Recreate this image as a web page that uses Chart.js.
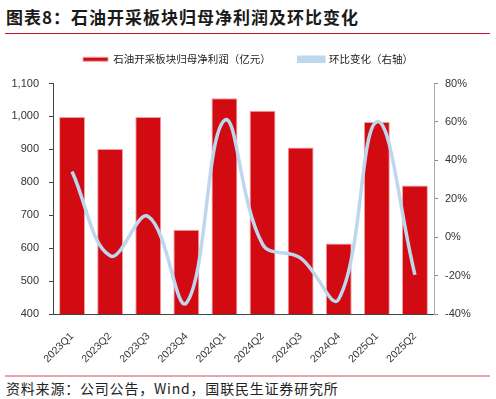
<!DOCTYPE html>
<html lang="zh-CN">
<head>
  <meta charset="UTF-8">
  <title>石油开采板块归母净利润及环比变化</title>
  <script src="https://cdn.jsdelivr.net/npm/chart.js"></script>
  <style>
    body { margin: 0; width: 496px; height: 399px; background: #fff; position: relative; overflow: hidden; }
    .titulo { position: absolute; left: 6px; top: 4px; font: bold 17px "Noto Sans CJK SC"; color: #1a1a1a; letter-spacing: 1px; }
    .linha-topo { position: absolute; left: 5px; top: 33px; width: 485px; height: 1px; background: #c8102e; }
    .grafico { position: absolute; left: 0; top: 26px; width: 496px; height: 344px; }
    .linha-base { position: absolute; left: 5px; top: 375px; width: 485px; height: 2px; background: #e9a3ad; }
    .fonte { position: absolute; left: 6px; top: 378px; font: 14px "Noto Sans CJK SC"; color: #222; letter-spacing: 0.8px; }
  </style>
</head>
<body>
  <div class="titulo">图表8：石油开采板块归母净利润及环比变化</div>
  <div class="linha-topo"></div>
  <div class="grafico"><canvas id="graficoLucro" width="496" height="344"></canvas></div>
  <div class="linha-base"></div>
  <div class="fonte">资料来源：公司公告，Wind，国联民生证券研究所</div>

  <script>
    const trimestres = ["2023Q1", "2023Q2", "2023Q3", "2023Q4", "2024Q1", "2024Q2", "2024Q3", "2024Q4", "2025Q1", "2025Q2"];
    const lucro = [998, 901, 998, 656, 1055, 1017, 906, 614, 983, 790];
    const variacao = [34.2, -9.7, 10.8, -34.3, 60.8, -3.6, -10.9, -32.2, 60.1, -19.6];
    const ticksEsq = [400, 500, 600, 700, 800, 900, 1000, 1100];
    const ticksDir = [-40, -20, 0, 20, 40, 60, 80];

    const fonteEixo = { family: "Liberation Sans", size: 11 };

    const ctx = document.getElementById("graficoLucro").getContext("2d");
    new Chart(ctx, {
      type: "bar",
      data: {
        labels: trimestres,
        datasets: [{
          label: "石油开采板块归母净利润（亿元）",
          data: lucro,
          backgroundColor: "#d20a11",
          borderColor: "#f0a0a4",
          borderWidth: 1,
          barPercentage: 0.68,
          categoryPercentage: 1,
          yAxisID: "y",
          order: 2
        }, {
          type: "line",
          label: "环比变化（右轴）",
          data: variacao,
          borderColor: "#bdd7ee",
          backgroundColor: "#bdd7ee",
          borderWidth: 3.5,
          pointRadius: 0,
          tension: 0.4,
          yAxisID: "y1",
          order: 1
        }]
      },
      options: {
        responsive: false,
        animation: false,
        layout: { padding: 0 },
        plugins: {
          tooltip: { enabled: false },
          // titulo vazio so para dar espaco entre a legenda e o grafico
          title: { display: true, text: "", padding: 0, weight: 0, font: { size: 9, lineHeight: 1 } },
          legend: {
            labels: {
              boxWidth: 25,
              boxHeight: 4,
              color: "#222",
              font: { family: "Noto Sans CJK SC", size: 10.5 },
              padding: 28,
              sort: (a, b) => a.datasetIndex - b.datasetIndex
            }
          }
        },
        scales: {
          x: {
            grid: { display: false },
            border: { color: "#444" },
            ticks: { color: "#333", font: { family: "Liberation Sans", size: 10.5 }, maxRotation: 45, minRotation: 45, padding: 8 },
            afterFit: function(s) { s.height = 56; }
          },
          y: {
            position: "left",
            min: 400, max: 1100,
            afterBuildTicks: function(s) { s.ticks = ticksEsq.map(v => ({ value: v })); },
            ticks: { color: "#333", font: fonteEixo, padding: 10, callback: v => v.toLocaleString("en-US") },
            grid: { drawOnChartArea: false, drawTicks: true, tickLength: 4, color: "#444" },
            border: { color: "#444" },
            afterFit: function(s) { s.width = 53; }
          },
          y1: {
            position: "right",
            min: -40, max: 80,
            afterBuildTicks: function(s) { s.ticks = ticksDir.map(v => ({ value: v })); },
            ticks: { color: "#333", font: fonteEixo, padding: 7, callback: v => v + "%" },
            grid: { drawOnChartArea: false, drawTicks: true, tickLength: 4, color: "#888" },
            border: { color: "#aaa" },
            afterFit: function(s) { s.width = 62; }
          }
        }
      }
    });
  </script>
</body>
</html>
